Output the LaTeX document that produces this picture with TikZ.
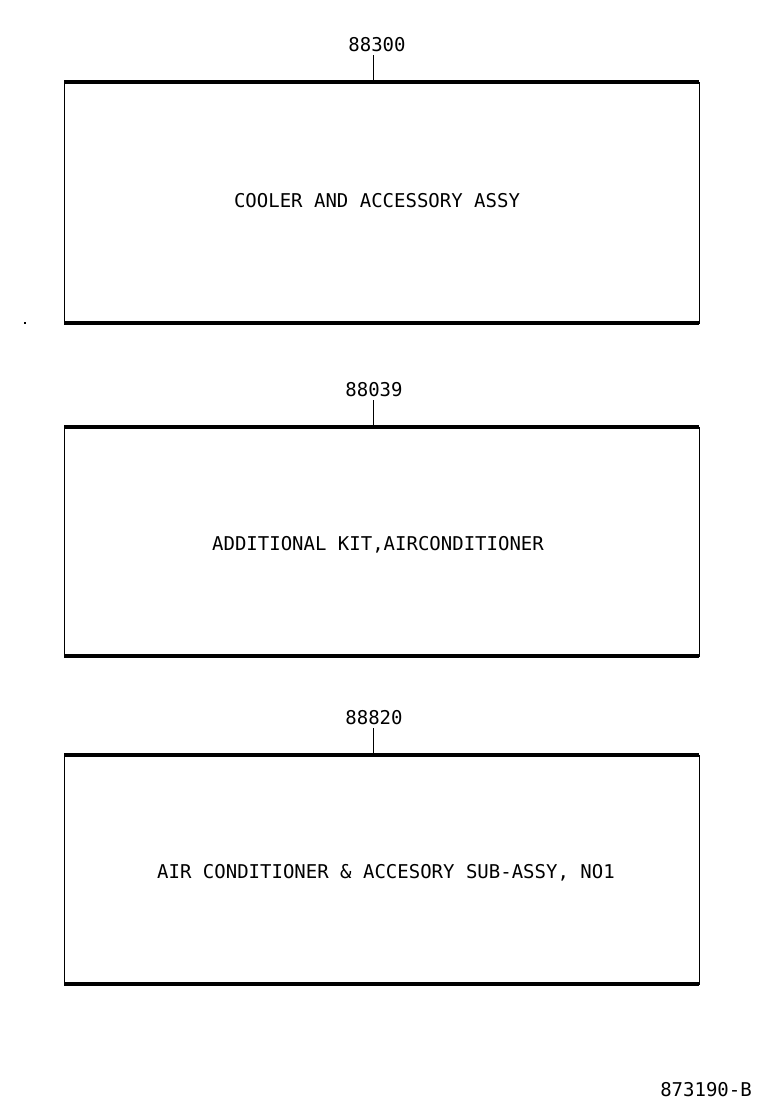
\documentclass[tikz,border=0pt]{standalone}
\usepackage{fontspec}
\newfontfamily\cadfont{DejaVu Sans Mono}
\usetikzlibrary{positioning}

\tikzset{
  partbox/.style={draw, line width=0.9pt, inner sep=0pt, outer sep=0pt,
    minimum width=635pt, anchor=north west},
  edge/.style={line width=3.2pt},
  leader/.style={line width=1pt},
  partname/.style={font=\cadfont\fontsize{19}{19}\selectfont, inner sep=0pt,
    text height=14pt, text depth=0pt},
  partno/.style={partname, outer ysep=4pt}
}

\begin{document}
\begin{tikzpicture}[x=1pt,y=-1pt]
  % frame
  \useasboundingbox (0,0) rectangle (760,1112);
  % boxes
  \node[partbox, minimum height=241pt] (cooler) at (64,82) {};
  \node[partbox, minimum height=229pt] (kit) at (64,427) {};
  \node[partbox, minimum height=229pt] (subassy) at (64,755) {};
  % heavy top and bottom edges
  \foreach \b in {cooler,kit,subassy}{
    \draw[edge] (\b.north west) -- (\b.north east);
    \draw[edge] (\b.south west) -- (\b.south east);
  }
  % taps on the top edges
  \coordinate (tapcooler) at (373,82);
  \coordinate (tapkit) at (373,427);
  \coordinate (tapsubassy) at (373,755);
  % part numbers
  \node[partno] (nocooler) at (377,44) {88300};
  \node[partno] (nokit) at (374,389) {88039};
  \node[partno] (nosubassy) at (374,717) {88820};
  % leaders
  \draw[leader] (nocooler.south -| tapcooler) -- (tapcooler);
  \draw[leader] (nokit.south -| tapkit) -- (tapkit);
  \draw[leader] (nosubassy.south -| tapsubassy) -- (tapsubassy);
  % part names
  \node[partname] (namecooler) at (377,200) {COOLER AND ACCESSORY ASSY};
  \node[partname] (namekit) at (378,543) {ADDITIONAL KIT,AIRCONDITIONER};
  \node[partname] (namesubassy) at (386,871) {AIR CONDITIONER \& ACCESORY SUB-ASSY, NO1};
  % illustration number
  \node[partname] (illno) at (706,1089) {873190-B};
  % stray mark
  \fill (24,322) rectangle (26,324);
\end{tikzpicture}
\end{document}
